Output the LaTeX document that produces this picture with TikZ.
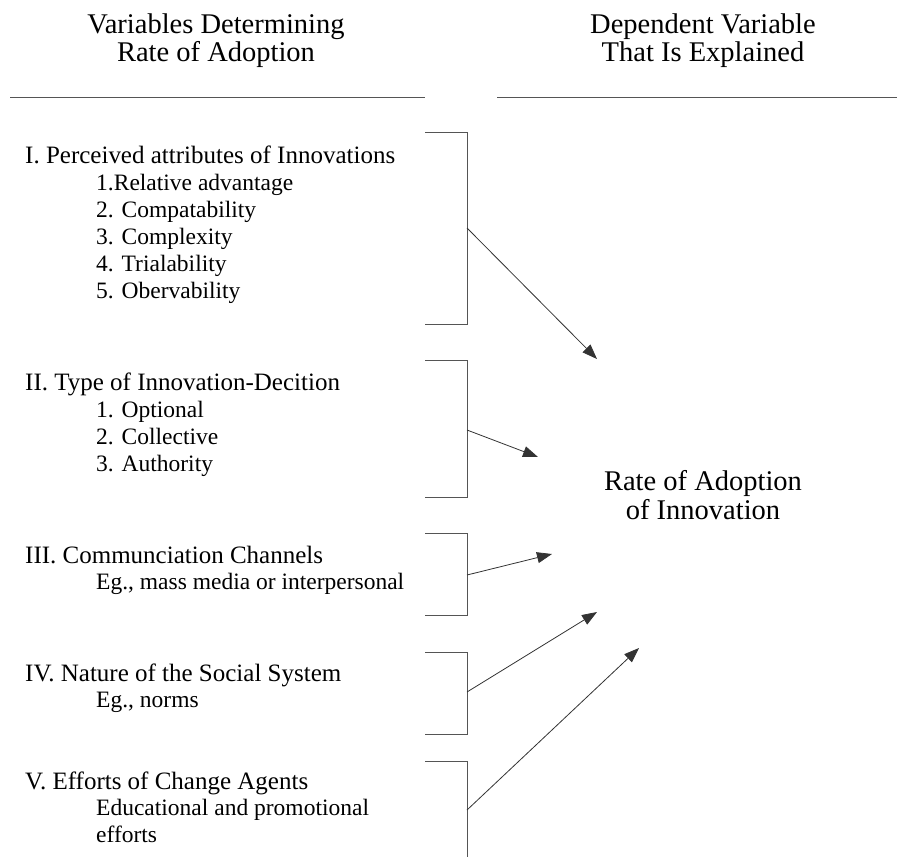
\documentclass[tikz,border=0pt]{standalone}
\usepackage{fontspec}
\setmainfont{Liberation Serif}
\usetikzlibrary{arrows.meta}
\definecolor{rulegray}{HTML}{555555}
\begin{document}
\begin{tikzpicture}[x=1pt,y=-1pt,
  hdr/.style={font=\fontsize{28.5}{29}\selectfont, anchor=base, inner sep=0pt},
  sec/.style={font=\fontsize{25}{27}\selectfont, anchor=base west, inner sep=0pt},
  itm/.style={font=\fontsize{23.5}{27}\selectfont, anchor=base west, inner sep=0pt},
  rulel/.style={draw=rulegray, line width=1pt},
  bracket/.style={draw=rulegray, line width=1pt},
  link/.style={draw=black!80, line width=0.8pt, -{Triangle[length=15pt,width=11pt]}}]
\useasboundingbox (0,0) rectangle (897,857);

% column headings
\node[hdr] (hl1) at (216,33) {Variables Determining};
\node[hdr] (hl2) at (216,61) {Rate of Adoption};
\node[hdr] (hr1) at (703,33) {Dependent Variable};
\node[hdr] (hr2) at (703,61) {That Is Explained};
\draw[rulel] (10,97) -- (425,97);
\draw[rulel] (497,97) -- (897,97);

% I
\node[sec] (s1) at (25,163) {I. Perceived attributes of Innovations};
\node[itm] (s1a) at (96,190) {1.Relative advantage};
\node[itm] (s1b) at (96,217) {2. Compatability};
\node[itm] (s1c) at (96,244) {3. Complexity};
\node[itm] (s1d) at (96,271) {4. Trialability};
\node[itm] (s1e) at (96,298) {5. Obervability};
% II
\node[sec] (s2) at (25,390) {II. Type of Innovation-Decition};
\node[itm] (s2a) at (96,417) {1. Optional};
\node[itm] (s2b) at (96,444) {2. Collective};
\node[itm] (s2c) at (96,471) {3. Authority};
% III
\node[sec] (s3) at (25,563) {III. Communciation Channels};
\node[itm] (s3a) at (96,589) {Eg., mass media or interpersonal};
% IV
\node[sec] (s4) at (25,681) {IV. Nature of the Social System};
\node[itm] (s4a) at (96,707) {Eg., norms};
% V
\node[sec] (s5) at (25,789) {V. Efforts of Change Agents};
\node[itm] (s5a) at (96,815) {Educational and promotional};
\node[itm] (s5b) at (96,842) {efforts};

% dependent variable
\node[hdr] (dv1) at (703,490) {Rate of Adoption};
\node[hdr] (dv2) at (703,519) {of Innovation};

% brackets
\draw[bracket] (425,132) -- (467,132) -- (467,324) -- (425,324);
\draw[bracket] (425,360) -- (467,360) -- (467,497) -- (425,497);
\draw[bracket] (425,533) -- (467,533) -- (467,615) -- (425,615);
\draw[bracket] (425,652) -- (467,652) -- (467,734) -- (425,734);
\draw[bracket] (425,761) -- (467,761) -- (467,857);

% bracket midpoints and arrow targets
\coordinate (m1) at (467,228);
\coordinate (m2) at (467,430);
\coordinate (m3) at (467,575);
\coordinate (m4) at (467,692);
\coordinate (m5) at (467,810);
\coordinate (t1) at (597,359);
\coordinate (t2) at (538,457);
\coordinate (t3) at (552,554);
\coordinate (t4) at (597,612);
\coordinate (t5) at (639,648);

\draw[link] (m1) -- (t1);
\draw[link] (m2) -- (t2);
\draw[link] (m3) -- (t3);
\draw[link] (m4) -- (t4);
\draw[link] (m5) -- (t5);
\end{tikzpicture}
\end{document}
